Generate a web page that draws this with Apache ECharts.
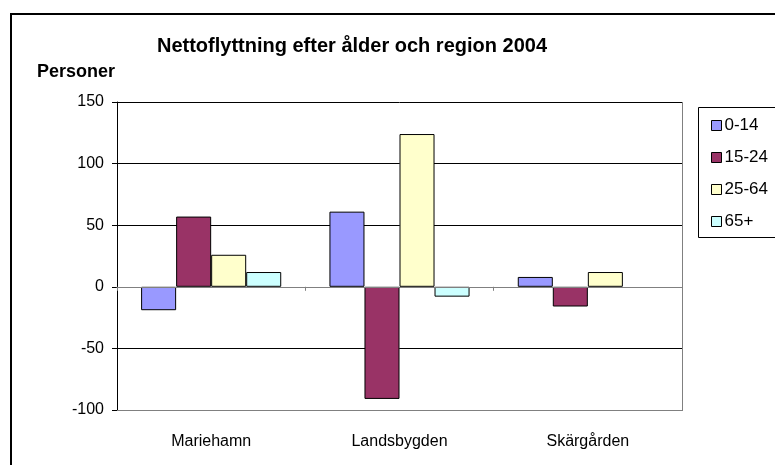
<!DOCTYPE html>
<html>
<head>
<meta charset="utf-8">
<script src="https://cdn.jsdelivr.net/npm/echarts@6/dist/echarts.min.js"></script>
<style>
html,body{margin:0;padding:0;background:#fff;}
#chart{width:775px;height:465px;}
</style>
</head>
<body>
<div id="chart"></div>
<script>
const categories = ['Mariehamn', 'Landsbygden', 'Skärgården'];
const seriesNames = ['0-14', '15-24', '25-64', '65+'];
const v0_14 = [-19, 61, 8];
const v15_24 = [57, -91, -16];
const v25_64 = [26, 124, 12];
const v65 = [12, -8, 0];
const yTicks = [-100, -50, 0, 50, 100, 150];
const colors = ['#9999FF', '#993366', '#FFFFCC', '#CCFFFF'];
const values = [v0_14, v15_24, v25_64, v65];

const chart = echarts.init(document.getElementById('chart'), null, {renderer: 'canvas'});
const font = 'Liberation Sans, Arial, sans-serif';

const baseGraphic = [
  {type: 'rect', shape: {x: 11, y: 14, width: 800, height: 500}, style: {fill: null, stroke: '#000', lineWidth: 2}, z: 100},
  {type: 'rect', shape: {x: 698.5, y: 107.5, width: 100, height: 130}, style: {fill: '#fff', stroke: '#000', lineWidth: 1}, z: 1},
  {type: 'text', x: 37, y: 63, style: {text: 'Personer', font: 'bold 18px ' + font, fill: '#000'}},
  {type: 'line', shape: {x1: 682.5, y1: 102, x2: 682.5, y2: 411}, style: {stroke: '#808080', lineWidth: 1}, z: 50},
  {type: 'line', shape: {x1: 117, y1: 410.5, x2: 683, y2: 410.5}, style: {stroke: '#808080', lineWidth: 1}, z: 50}
];

chart.setOption({
  animation: false,
  backgroundColor: '#fff',
  textStyle: {fontFamily: font},
  title: {
    text: 'Nettoflyttning efter ålder och region 2004',
    left: 347, top: 31, textAlign: 'center',
    textStyle: {fontFamily: font, fontSize: 20, fontWeight: 'bold', color: '#000'}
  },
  graphic: baseGraphic,
  legend: {
    orient: 'vertical',
    left: 706, top: 112,
    itemWidth: 10, itemHeight: 10, itemGap: 15,
    icon: 'rect',
    itemStyle: {borderColor: '#000', borderWidth: 1},
    textStyle: {fontFamily: font, fontSize: 17, color: '#000', padding: [0, 0, 0, -2]},
    data: seriesNames,
    z: 5
  },
  grid: {left: 117, right: 93, top: 102, bottom: 55, containLabel: false},
  xAxis: {
    type: 'category',
    data: categories,
    axisLine: {onZero: true, lineStyle: {color: '#808080', width: 1}},
    axisTick: {show: true, length: 4, inside: false, lineStyle: {color: '#808080'}},
    axisLabel: {show: false},
    z: 10
  },
  yAxis: {
    type: 'value',
    min: -100, max: 150, interval: 50,
    axisLine: {show: true, lineStyle: {color: '#000', width: 1}},
    axisTick: {show: true, length: 5, lineStyle: {color: '#000'}},
    axisLabel: {fontFamily: font, fontSize: 16, color: '#000', margin: 13,
      formatter: v => yTicks.includes(v) ? String(v) : ''},
    splitLine: {show: true, lineStyle: {color: '#000', width: 1}}
  },
  series: seriesNames.map((n, i) => ({
    name: n,
    type: 'bar',
    data: values[i].map(v => v === 0 ? {value: v, itemStyle: {borderWidth: 0}} : v),
    barGap: '0%',
    barCategoryGap: '25.6%',
    itemStyle: {color: colors[i], borderColor: '#000', borderWidth: 1},
    z: 3
  }))
});

// category labels below the plot area, placed via axis scale
const extra = categories.map((c) => {
  const p = chart.convertToPixel({xAxisIndex: 0}, c);
  return {type: 'text', x: p, y: 434, style: {text: c, font: '16px ' + font, fill: '#000', textAlign: 'center'}};
});
chart.setOption({graphic: baseGraphic.concat(extra)});
</script>
</body>
</html>
